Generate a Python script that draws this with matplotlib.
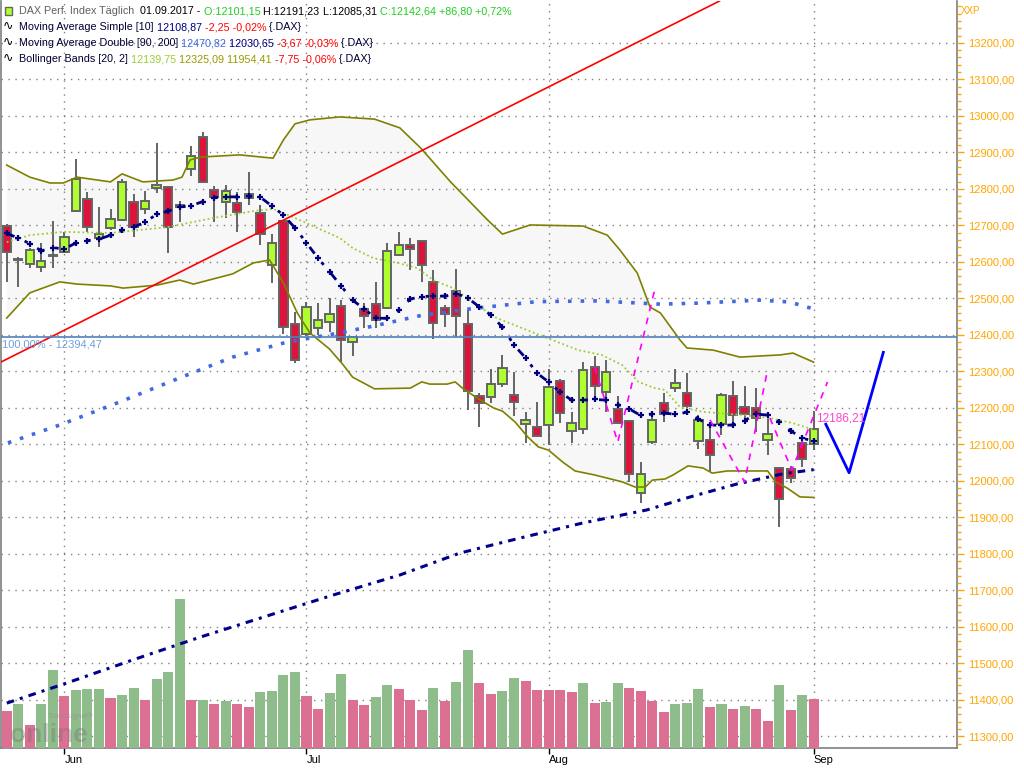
"""
DAX Tageschart (Kerzen) mit SMA 10, Doppel-MA 90/200, Bollinger-Baendern und Volumen.
Speichert die Grafik als out.png.
"""

import numpy as np
import matplotlib.pyplot as plt
from matplotlib.patches import Rectangle
from matplotlib.ticker import FixedLocator, FuncFormatter

plt.rcParams['font.family'] = ['Liberation Sans', 'DejaVu Sans']

# ---------------------------------------------------------------
# Daten (vom Chart abgelesen), 71 Handelstage 25.05.2017 - 01.09.2017
# ---------------------------------------------------------------
opens = [12698, 12605, 12593, 12587, 12615, 12626, 12738, 12771, 12665, 12692,
         12714, 12763, 12744, 12801, 12804, 12750, 12854, 12941, 12796, 12763,
         12760, 12787, 12733, 12590, 12711, 12429, 12401, 12418, 12436, 12478,
         12379, 12470, 12484, 12473, 12618, 12645, 12656, 12544, 12473, 12519,
         12429, 12232, 12230, 12265, 12235, 12155, 12147, 12152, 12273, 12137,
         12141, 12311, 12242, 12196, 12164, 11966, 12106, 12212, 12253, 12240,
         12108, 12111, 12155, 12232, 12201, 12199, 12111, 12034, 12032, 12103,
         12101.15]
highs = [12705, 12614, 12639, 12651, 12712, 12681, 12882, 12790, 12750, 12745,
         12826, 12786, 12794, 12926, 12808, 12767, 12917, 12956, 12808, 12810,
         12790, 12845, 12756, 12676, 12713, 12463, 12491, 12486, 12502, 12495,
         12396, 12487, 12544, 12651, 12681, 12664, 12660, 12578, 12482, 12580,
         12468, 12240, 12305, 12345, 12298, 12189, 12216, 12305, 12278, 12189,
         12325, 12342, 12331, 12232, 12166, 12051, 12187, 12240, 12306, 12295,
         12180, 12153, 12240, 12274, 12260, 12253, 12178, 12039, 12041, 12119,
         12191.23]
lows = [12546, 12532, 12582, 12571, 12584, 12624, 12736, 12683, 12641, 12688,
        12712, 12669, 12730, 12789, 12623, 12710, 12836, 12815, 12710, 12719,
        12681, 12756, 12646, 12541, 12401, 12322, 12398, 12399, 12409, 12326,
        12343, 12419, 12419, 12470, 12616, 12578, 12546, 12388, 12422, 12395,
        12194, 12147, 12214, 12258, 12178, 12103, 12120, 12097, 12158, 12103,
        12127, 12229, 12188, 12155, 11998, 11938, 12100, 12162, 12244, 12185,
        12086, 12025, 12126, 12153, 12167, 12135, 12071, 11873, 11993, 12039,
        12085.31]
closes = [12626, 12608, 12632, 12602, 12618, 12667, 12827, 12695, 12675, 12716,
          12818, 12695, 12768, 12810, 12695, 12756, 12891, 12818, 12777, 12795,
          12736, 12775, 12676, 12651, 12421, 12331, 12477, 12440, 12456, 12385,
          12393, 12452, 12440, 12629, 12645, 12634, 12590, 12433, 12456, 12451,
          12246, 12213, 12266, 12308, 12215, 12167, 12122, 12256, 12185, 12158,
          12303, 12261, 12297, 12158, 12018, 12018, 12168, 12182, 12267, 12206,
          12168, 12070, 12235, 12180, 12184, 12171, 12128, 11950, 12007, 12060,
          12142.64]

# Volumen (ohne Skala im Chart, relative Einheiten)
volume = [37, 44, 23, 44, 78, 52, 58, 59, 59, 50,
          53, 60, 48, 69, 76, 149, 48, 48, 44, 47,
          44, 41, 56, 57, 73, 76, 52, 39, 55, 74,
          48, 43, 51, 63, 59, 48, 38, 60, 47, 66,
          98, 65, 54, 57, 70, 67, 58, 58, 58, 56,
          65, 45, 46, 65, 60, 57, 47, 36, 44, 45,
          59, 41, 44, 39, 42, 39, 27, 63, 38, 53,
          49]
vol_up = [0, 1, 0, 1, 1, 0, 1, 1, 1, 0,
          1, 1, 0, 1, 1, 1, 0, 1, 0, 1,
          0, 0, 1, 1, 1, 1, 0, 0, 1, 1,
          0, 0, 1, 1, 0, 0, 0, 1, 0, 1,
          1, 0, 0, 1, 1, 0, 0, 0, 0, 0,
          1, 0, 1, 1, 0, 0, 0, 0, 1, 1,
          1, 0, 1, 0, 1, 0, 0, 1, 0, 1,
          0]

# Moving Average Simple [10]
sma10 = [12678, 12665, 12650, 12630, 12639, 12635, 12652, 12658, 12662, 12673,
         12686, 12695, 12709, 12730, 12739, 12750, 12754, 12765, 12776, 12778,
         12778, 12780, 12777, 12753, 12728, 12693, 12652, 12610, 12573, 12534,
         12495, 12471, 12446, 12445, 12467, 12498, 12505, 12506, 12506, 12513,
         12501, 12476, 12454, 12421, 12372, 12337, 12295, 12271, 12243, 12221,
         12221, 12223, 12221, 12209, 12197, 12179, 12183, 12186, 12182, 12188,
         12169, 12153, 12152, 12153, 12165, 12183, 12180, 12160, 12137, 12117,
         12108.87]

# Moving Average Double [90, 200] (Stuetzpunkte: Bar-Index, Wert)
ma90_x = [0.1, 4.6, 9.8, 15.0, 19.6, 24.3, 28.3, 31.8, 35.8, 40.4, 46.0, 51.2,
          56.7, 60.1, 65.3, 67.9, 70.0]
ma90 = [12104, 12153, 12216, 12282, 12339, 12380, 12402, 12424, 12452, 12472,
        12491, 12493, 12484, 12487, 12495, 12490, 12470.82]
ma200_x = [0.0, 5.2, 10.9, 16.8, 22.6, 28.3, 34.1, 39.3, 44.5, 49.9, 55.5,
           59.3, 63.3, 67.3, 70.0]
ma200 = [11391, 11446, 11509, 11572, 11630, 11687, 11742, 11802, 11843, 11884,
         11920, 11956, 11991, 12019, 12030.65]

# Bollinger Bands [20, 2] (Stuetzpunkte)
bb_up_x = [0.0, 2.0, 3.75, 4.9, 6.1, 9.0, 10.0, 11.8, 14.4, 15.2, 15.9, 16.8,
           20.2, 23.1, 24.0, 25.0, 26.3, 28.9, 31.9, 34.1, 35.9, 38.5, 41.7,
           43.0, 45.4, 50.0, 52.1, 53.2, 54.7, 55.8, 56.7, 58.4, 59.0, 61.3,
           63.6, 67.1, 68.2, 70.0]
bb_up = [12865, 12832, 12816, 12816, 12832, 12819, 12841, 12819, 12824, 12832,
         12879, 12887, 12893, 12884, 12934, 12978, 12989, 12997, 12991, 12967,
         12912, 12819, 12715, 12676, 12701, 12698, 12673, 12632, 12569, 12476,
         12460, 12386, 12364, 12358, 12339, 12345, 12350, 12325.09]
bb_mid_x = [0.0, 2.0, 4.9, 9.0, 13.9, 17.9, 21.4, 23.1, 24.8, 28.9, 30.0, 31.8,
            33.9, 35.6, 37.0, 38.7, 40.4, 42.5, 47.3, 49.6, 51.6, 53.4, 54.8,
            56.2, 57.1, 58.4, 60.4, 63.9, 66.2, 68.2, 70.0]
bb_mid = [12654, 12673, 12682, 12679, 12695, 12720, 12739, 12745, 12723, 12665,
          12638, 12610, 12597, 12583, 12550, 12528, 12490, 12446, 12386, 12358,
          12345, 12317, 12271, 12254, 12249, 12202, 12189, 12180, 12172, 12158,
          12139.75]
bb_lo_x = [0.0, 2.0, 4.6, 6.1, 9.0, 10.1, 13.0, 15.0, 16.2, 19.6, 21.4, 22.8,
           24.0, 25.2, 26.3, 28.0, 29.2, 30.0, 31.9, 35.0, 36.0, 36.7, 38.2,
           38.9, 39.6, 40.8, 42.2, 43.0, 44.1, 45.2, 46.1, 47.0, 48.2, 49.3,
           51.0, 53.4, 54.5, 55.4, 56.0, 57.1, 57.8, 59.1, 60.4, 61.2, 62.5,
           66.0, 66.7, 67.7, 68.8, 70.0]
bb_lo = [12446, 12515, 12545, 12539, 12534, 12528, 12536, 12550, 12539, 12567,
         12597, 12605, 12542, 12460, 12405, 12361, 12317, 12284, 12252, 12254,
         12271, 12265, 12265, 12271, 12252, 12227, 12200, 12191, 12161, 12120,
         12093, 12084, 12052, 12027, 12016, 11997, 11983, 11983, 12002, 12005,
         12016, 12041, 12035, 12021, 12027, 12027, 11997, 11980, 11956,
         11954.41]

# Zeichenwerkzeuge
trend_x = [-0.59, 28.9]
trend_y = [12324, 12792]
level_100 = 12394.47
proj_x = [71.05, 73.07, 76.04]
proj_y = [12155, 12022, 12352]
zigzags = [
    ([51.0, 53.0, 56.2], [12312, 12106, 12523]),
    ([61.0, 64.0, 66.0], [12167, 11997, 12304]),
    ([66.2, 68.1, 71.2], [12172, 12030, 12271]),
]
zig_label = 12186.21

month_pos = [5, 26, 47, 70]
month_labels = ["Jun", "Jul", "Aug", "Sep"]

# ---------------------------------------------------------------
# Layout
# ---------------------------------------------------------------
W, H = 1024, 768
fig = plt.figure(figsize=(W / 100, H / 100), dpi=100)
fig.patch.set_facecolor("white")
rect = [1 / W, 20 / H, 956 / W, 747 / H]
xlim = (-0.5, 82.43)
ylim = (11268, 13314.6)

ax_bg = fig.add_axes(rect)
ax_vol = fig.add_axes(rect)
ax = fig.add_axes(rect)
for a in (ax_bg, ax_vol, ax):
    a.set_xlim(*xlim)
ax_bg.set_ylim(*ylim)
ax.set_ylim(*ylim)
ax_vol.set_ylim(0, 747)
ax_vol.patch.set_visible(False)
ax.patch.set_visible(False)
ax_vol.axis("off")

grid_col = "#808080"
dots = (0, (1, 4))

# Hintergrund: Bollinger-Flaeche und Gitter
ax_bg.fill(np.r_[bb_up_x, bb_lo_x[::-1]], np.r_[bb_up, bb_lo[::-1]],
           color="#f7f7f7", lw=0, zorder=0)
for lvl in range(11300, 13201, 100):
    ax_bg.axhline(lvl, color=grid_col, lw=1, ls=dots, zorder=1)
for m in month_pos:
    ax_bg.axvline(m, color=grid_col, lw=1, ls=dots, zorder=1)

for side in ("left", "bottom", "right"):
    ax_bg.spines[side].set_color("#7f7f7f")
    ax_bg.spines[side].set_linewidth(1.2)
ax_bg.spines["top"].set_visible(False)
ax_bg.set_yticks([])
ax_bg.set_xticks(month_pos)
ax_bg.set_xticklabels(month_labels, ha="left")
ax_bg.tick_params(axis="x", length=4, width=1, color="black", labelsize=8,
                  pad=1)

# Volumen
ax_vol.bar(range(len(volume)), volume, width=0.87,
           color=["#8fbc8b" if u else "#db7093" for u in vol_up], zorder=1)

# Preisachse rechts
for side in ax.spines:
    ax.spines[side].set_visible(False)
ax.set_xticks([])
ax.yaxis.tick_right()
ax.yaxis.set_major_locator(FixedLocator(np.arange(11300, 13201, 100)))
ax.yaxis.set_minor_locator(FixedLocator(np.arange(11280, 13320, 20)))
ax.yaxis.set_major_formatter(FuncFormatter(lambda v, p: f"{v:.2f}".replace(".", ",")))
ax.tick_params(axis="y", which="major", colors="#ffa500", labelsize=8,
               length=5, width=1, pad=3)
ax.tick_params(axis="y", which="minor", colors="#ffa500", length=3, width=1)
fig.text(961 / W, 1 - 11 / H, "XXP", color="#ffa500", fontsize=7, va="center")

# Kerzen
edge = "#646464"
for i in range(len(opens)):
    o, h, l, c = opens[i], highs[i], lows[i], closes[i]
    ax.vlines(i, l, h, color=edge, lw=1.4, zorder=3)
    body = Rectangle((i - 0.36, min(o, c)), 0.72, max(abs(c - o), 1.0),
                     facecolor="#adff2f" if c >= o else "#dc143c",
                     edgecolor=edge, lw=1.4, zorder=4)
    ax.add_patch(body)

# Indikatoren
ax.plot(ma200_x, ma200, color="#00008b", lw=2.2, ls=(0, (2.5, 2, 1, 2)), zorder=5)
ax.plot(ma90_x, ma90, color="#4169e1", lw=2.6, ls=(0, (1, 2.5)), zorder=5)
ax.plot(bb_up_x, bb_up, color="#808000", lw=1.2, zorder=5)
ax.plot(bb_lo_x, bb_lo, color="#808000", lw=1.2, zorder=5)
ax.plot(bb_mid_x, bb_mid, color="#9acd32", lw=1.3, ls=(0, (1, 1.5)), zorder=5)
ax.plot(range(len(sma10)), sma10, color="#00007f", lw=2.0,
        ls=(0, (3, 4, 1.2, 4)), marker="+", ms=5, mew=1.6, zorder=6)

# Trendlinie, 100%-Linie, Projektion
ax.axline((trend_x[0], trend_y[0]), (trend_x[1], trend_y[1]), color="red",
          lw=1.2, zorder=5)
ax.axhline(level_100, color="#4f81bd", lw=1.2, zorder=5)
ax.text(-0.4, level_100 - 8, "100,00% - " + f"{level_100:.2f}".replace(".", ","),
        color="#6fa0d8", fontsize=8, va="top", ha="left", zorder=7)
for zx, zy in zigzags:
    ax.plot(zx, zy, color="#ff00ff", lw=1.2, ls=(0, (4, 4)), zorder=6)
ax.text(70.2, 12172, f"{zig_label:.2f}".replace(".", ","), color="#ff44cc",
        fontsize=8.5, va="center", ha="left", zorder=7)
ax.plot(proj_x, proj_y, color="#0000ff", lw=2, zorder=6)

# Legende oben links (mehrfarbiger Text)
fs = 7.75


def rainbow(y_px, parts, x_px=19):
    t = fig.text(x_px / W, 1 - y_px / H, parts[0][0], color=parts[0][1],
                 fontsize=fs, va="center", ha="left")
    for s, c in parts[1:]:
        t = ax.annotate(s, xy=(1, 0), xycoords=t, va="bottom", ha="left",
                        color=c, fontsize=fs, annotation_clip=False)


fig.add_artist(Rectangle((5 / W, 1 - 15 / H), 7 / W, 8 / H,
                         transform=fig.transFigure, facecolor="#adff2f",
                         edgecolor="#666666", lw=1))
rainbow(11, [("DAX Perf. Index Täglich", "#606060"),
             ("  01.09.2017 -", "black"),
             (" O:12101,15", "#22cc22"),
             (" H:12191,23", "black"),
             (" L:12085,31", "black"),
             (" C:12142,64 +86,80 +0,72%", "#22cc22")])
for y in (27, 43, 59):
    fig.text(3 / W, 1 - y / H, "∿", fontsize=9, va="center", color="black")
rainbow(27, [("Moving Average Simple [10]", "#000033"),
             (" 12108,87", "#00007f"),
             (" -2,25 -0,02%", "red"),
             (" {.DAX}", "#000033")])
rainbow(43, [("Moving Average Double [90, 200]", "#000033"),
             (" 12470,82", "#4169e1"),
             (" 12030,65", "#00007f"),
             (" -3,67 -0,03%", "red"),
             (" {.DAX}", "#000033")])
rainbow(59, [("Bollinger Bands [20, 2]", "#000033"),
             (" 12139,75", "#9acd32"),
             (" 12325,09 11954,41", "#999900"),
             (" -7,75 -0,06%", "red"),
             (" {.DAX}", "#000033")])

# Wasserzeichen
fig.text(48 / W, 1 - 716 / H, "Tradesignal®", fontsize=5.5, color="#909090",
         alpha=0.6, va="center")
fig.text(10 / W, 1 - 735 / H, "online", fontsize=19, fontweight="bold",
         color="#707070", alpha=0.35, va="center")

fig.savefig("out.png", dpi=100)
